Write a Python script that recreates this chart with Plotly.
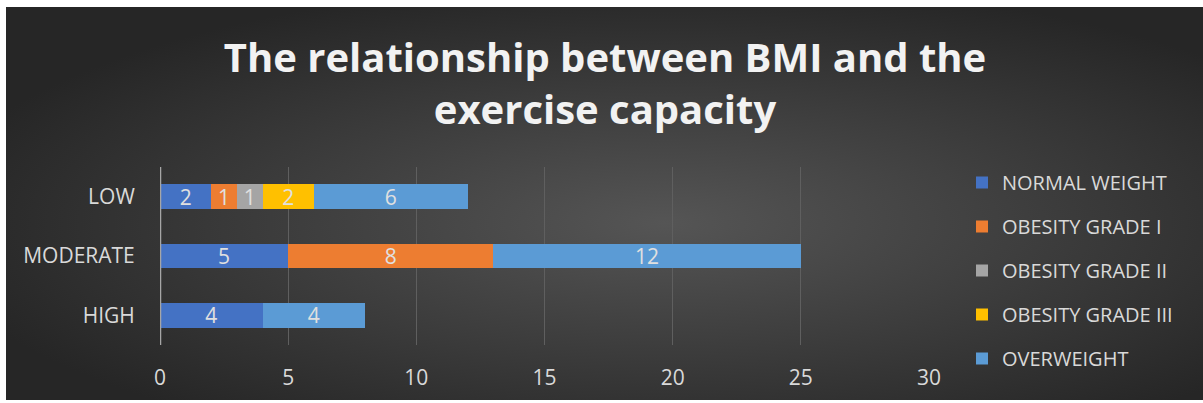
import base64
import plotly.graph_objects as go

categories = ["LOW", "MODERATE", "HIGH"]
series_names = ["NORMAL WEIGHT", "OBESITY GRADE I", "OBESITY GRADE II", "OBESITY GRADE III", "OVERWEIGHT"]
normal_weight = [2, 5, 4]
obesity_1 = [1, 8, 0]
obesity_2 = [1, 0, 0]
obesity_3 = [2, 0, 0]
overweight = [6, 12, 4]
series_values = [normal_weight, obesity_1, obesity_2, obesity_3, overweight]
colors = ["#4472C4", "#ED7D31", "#A5A5A5", "#FFC000", "#5B9BD5"]
x_ticks = [0, 5, 10, 15, 20, 25, 30]

W, H = 1203, 403
L, R, T, B = 160, 274, 167, 58
pw, ph = W - L - R, H - T - B

svg = """<svg xmlns='http://www.w3.org/2000/svg' width='1197' height='393' viewBox='0 0 1197 393' preserveAspectRatio='none'>
<defs><radialGradient id='g' cx='0.55' cy='0.55' r='0.62'>
<stop offset='0' stop-color='#555555'/><stop offset='1' stop-color='#262626'/></radialGradient></defs>
<rect width='1197' height='393' fill='url(#g)'/></svg>"""
src = "data:image/svg+xml;base64," + base64.b64encode(svg.encode()).decode()

fig = go.Figure()
for name, vals, col in zip(series_names, series_values, colors):
    fig.add_trace(go.Bar(
        y=categories, x=vals, name=name, orientation="h",
        marker=dict(color=col, line=dict(width=0)),
        text=[str(v) if v else "" for v in vals],
        textposition="inside", insidetextanchor="middle", textangle=0,
        textfont=dict(family="Open Sans", size=21, color="#e0e0e0"),
        legendgroup=name, hoverinfo="skip",
    ))

fig.update_layout(
    width=W, height=H, barmode="stack", bargap=0.58,
    margin=dict(l=L, r=R, t=T, b=B),
    paper_bgcolor="white", plot_bgcolor="rgba(0,0,0,0)",
    uniformtext=dict(minsize=21, mode="show"),
    font=dict(family="Open Sans", color="#d9d9d9"),
    title=dict(text="The relationship between BMI and the<br>exercise capacity",
               x=605 / W, xanchor="center", y=1 - 72 / H, yanchor="middle",
               font=dict(family="Open Sans", size=40, color="#f2f2f2", weight="bold")),
    legend=dict(x=(962 - L) / pw, xanchor="left", y=1 + 4 / ph, yanchor="top",
                traceorder="grouped", tracegroupgap=15, maxheight=400,
                font=dict(family="Open Sans", size=20, color="#d9d9d9"),
                bgcolor="rgba(0,0,0,0)"),
    images=[dict(source=src, xref="paper", yref="paper",
                 x=(6 - L) / pw, y=(H - B - 7) / ph, sizex=1197 / pw, sizey=393 / ph,
                 xanchor="left", yanchor="top", sizing="stretch", layer="below")],
    xaxis=dict(range=[0, 30], tickvals=x_ticks, showgrid=True, gridcolor="#5f5f5f", gridwidth=1,
               zeroline=False, showline=False, ticks="outside", ticklen=14,
               tickcolor="rgba(0,0,0,0)", tickfont=dict(size=21, color="#d9d9d9"), fixedrange=True),
    yaxis=dict(categoryorder="array", categoryarray=categories[::-1], showgrid=False,
               zeroline=False, showline=False, ticks="outside", ticklen=20,
               tickcolor="rgba(0,0,0,0)", tickfont=dict(size=21, color="#d9d9d9")),
    shapes=[dict(type="line", xref="x", yref="paper", x0=0, x1=0, y0=0, y1=1,
                 line=dict(color="#a6a6a6", width=2.5), layer="above")],
)

fig.write_html("out.html")
